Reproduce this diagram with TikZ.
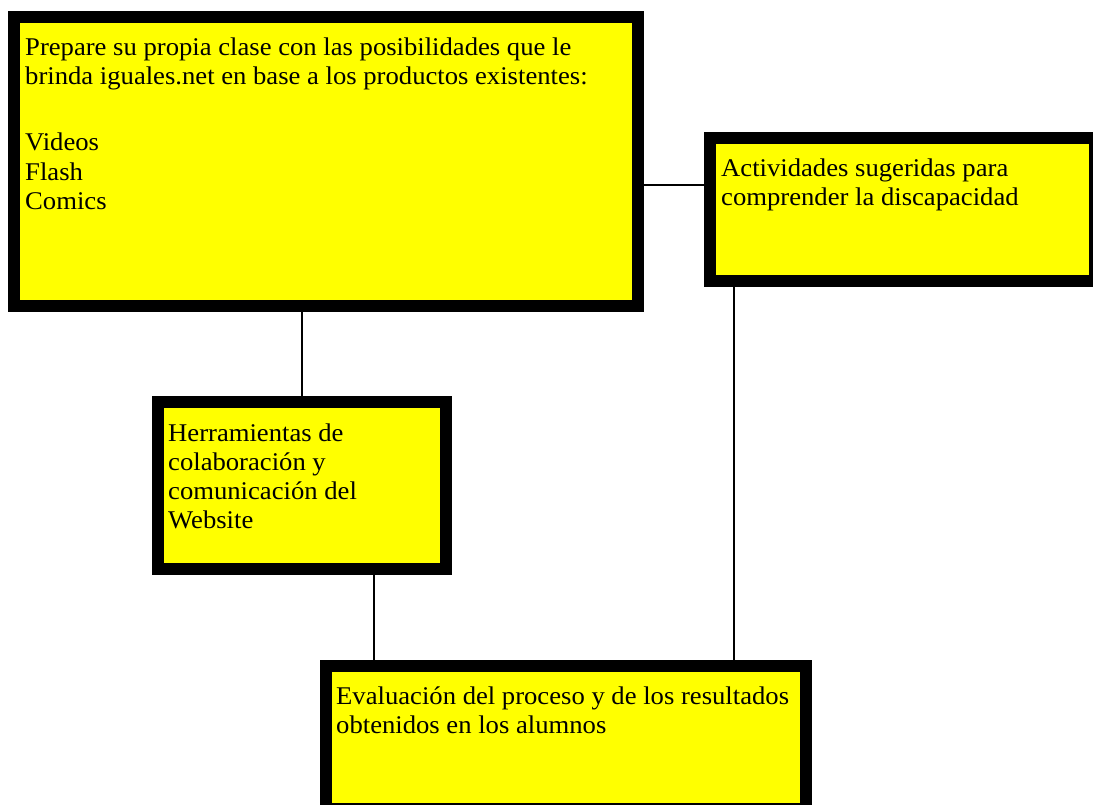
\documentclass[tikz,border=0pt]{standalone}
\usepackage{fontspec}
\setmainfont{Liberation Serif}[FakeStretch=1.045]
\definecolor{boxyellow}{RGB}{255,255,0}
\begin{document}
\begin{tikzpicture}[x=1pt,y=-1pt,
  box/.style={draw=black,line width=12pt,fill=boxyellow,outer sep=6pt,inner sep=0pt,rectangle},
  txt/.style={anchor=base west,inner sep=0pt,font=\fontsize{25.5}{29}\selectfont,text=black},
  link/.style={draw=black,line width=1.4pt}]
\useasboundingbox (0,0) rectangle (1093,805);
\clip (0,0) rectangle (1093,805);
\fill[white] (0,0) rectangle (1093,805);
% boxes
\node[box,minimum width=624pt,minimum height=289pt] (b1) at (326,161.5) {};
\node[box,minimum width=385pt,minimum height=143pt] (b2) at (902.5,209.5) {};
\node[box,minimum width=288pt,minimum height=167pt] (b3) at (302,485.5) {};
\node[box,minimum width=480pt,minimum height=143pt] (b4) at (566,737.5) {};
% connectors
\draw[link] (b1.east |- 0,185) -- (b2.west |- 0,185);
\draw[link] (b3.north |- b1.south) -- (b3.north);
\draw[link] (b3.south -| 374,0) -- (b4.north -| 374,0);
\draw[link] (b2.south -| 734,0) -- (b4.north -| 734,0);
% texts
\node[txt] (t1a) at (25,56) {Prepare su propia clase con las posibilidades que le};
\node[txt] (t1b) at (25,85) {brinda iguales.net en base a los productos existentes:};
\node[txt] (t1c) at (25,151) {Videos};
\node[txt] (t1d) at (25,180.5) {Flash};
\node[txt] (t1e) at (25,210) {Comics};
\node[txt] (t2a) at (721,177) {Actividades sugeridas para};
\node[txt] (t2b) at (721,206) {comprender la discapacidad};
\node[txt] (t3a) at (168,441) {Herramientas de};
\node[txt] (t3b) at (168,470) {colaboración y};
\node[txt] (t3c) at (168,499) {comunicación del};
\node[txt] (t3d) at (168,528) {Website};
\node[txt] (t4a) at (336,704) {Evaluación del proceso y de los resultados};
\node[txt] (t4b) at (336,733) {obtenidos en los alumnos};
\end{tikzpicture}
\end{document}
